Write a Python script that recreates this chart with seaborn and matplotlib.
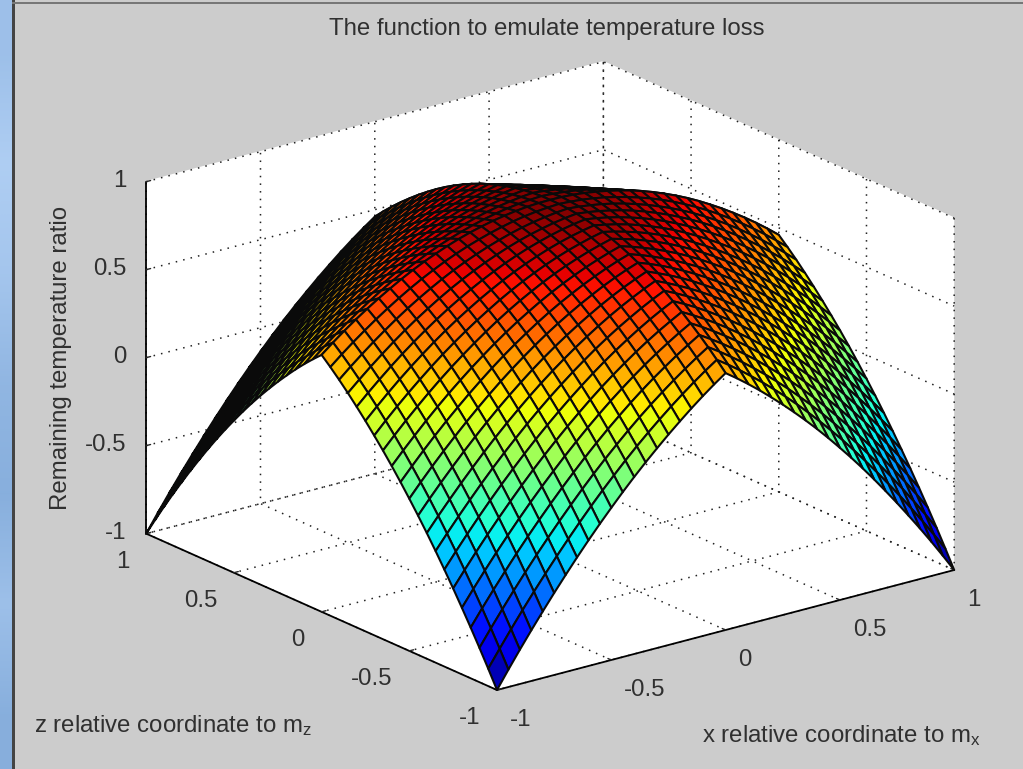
import numpy as np
import matplotlib
matplotlib.use("Agg")
import matplotlib.pyplot as plt
from matplotlib.patches import Rectangle
from mpl_toolkits.mplot3d import proj3d
import seaborn as sns

TITLE = "The function to emulate temperature loss"
XLABEL = r"x relative coordinate to m$_{\mathrm{x}}$"
ZLABEL = r"z relative coordinate to m$_{\mathrm{z}}$"
YLABEL = "Remaining temperature ratio"
TICKS = [-1, -0.5, 0, 0.5, 1]
TICK_LABELS = ["-1", "-0.5", "0", "0.5", "1"]

# Mesh coordinates from centre to edge (the surface is mirrored about both axes)
coord_half = [0.00, 0.05, 0.10, 0.15, 0.20, 0.25, 0.30, 0.35, 0.40, 0.45, 0.50,
              0.55, 0.60, 0.65, 0.70, 0.75, 0.80, 0.85, 0.90, 0.95, 1.00]

# Height read per quadrant mesh node (upper triangle, the quadrant is symmetric)
ratio_rows = [
    [1.000, .999, .995, .988, .978, .966, .951, .934, .914, .891, .865, .837, .806, .772, .735, .696, .654, .610, .563, .513, .460],
    [.995, .989, .980, .968, .953, .936, .916, .894, .869, .841, .810, .777, .741, .702, .660, .616, .569, .520, .468, .413],
    [.980, .969, .955, .938, .918, .896, .871, .844, .814, .781, .745, .707, .666, .622, .575, .526, .474, .420, .363],
    [.955, .939, .920, .898, .873, .846, .816, .784, .749, .711, .670, .627, .581, .532, .480, .426, .369, .310],
    [.920, .899, .875, .848, .818, .786, .751, .714, .674, .631, .585, .537, .486, .432, .375, .316, .254],
    [.875, .849, .820, .788, .753, .716, .676, .634, .589, .541, .490, .437, .381, .322, .260, .196],
    [.820, .789, .755, .718, .678, .636, .591, .544, .494, .441, .385, .327, .266, .202, .135],
    [.755, .719, .680, .638, .593, .546, .496, .444, .389, .331, .270, .207, .141, .072],
    [.680, .639, .595, .548, .498, .446, .391, .334, .274, .211, .145, .077, .006],
    [.595, .549, .500, .448, .393, .336, .276, .214, .149, .081, .010, -.063],
    [.500, .449, .395, .338, .278, .216, .151, .084, .014, -.059, -.135],
    [.395, .339, .280, .218, .153, .086, .016, -.056, -.131, -.209],
    [.280, .219, .155, .088, .018, -.054, -.129, -.206, -.286],
    [.155, .089, .020, -.052, -.127, -.204, -.284, -.366],
    [.020, -.051, -.125, -.202, -.282, -.364, -.449],
    [-.125, -.201, -.280, -.362, -.447, -.534],
    [-.280, -.361, -.445, -.532, -.622],
    [-.445, -.531, -.620, -.712],
    [-.620, -.711, -.805],
    [-.805, -.901],
    [-1.000],
]

n = len(coord_half)
quad = np.zeros((n, n))
for i, row in enumerate(ratio_rows):
    quad[i, i:] = row
    quad[i:, i] = row
full = np.vstack([quad[:0:-1], quad])
full = np.hstack([full[:, :0:-1], full])
half = np.array(coord_half)
axis_coord = np.concatenate([-half[:0:-1], half])
X, Y = np.meshgrid(axis_coord, axis_coord)

sns.set_theme(style="white")
plt.rcParams["font.family"] = ["Liberation Sans", "DejaVu Sans"]
plt.rcParams["mathtext.fontset"] = "custom"
plt.rcParams["mathtext.rm"] = "Liberation Sans"
plt.rcParams["mathtext.default"] = "rm"

W, H = 1023, 769
BG = "#cccccc"
TXT = "#303030"
FS = 17.3
fig = plt.figure(figsize=(W / 100, H / 100), dpi=100, facecolor=BG)

# Window decoration: blue strip at the left, dark frame lines
strip = fig.add_axes([0, 0, 12 / W, 1])
strip.imshow(np.array([[0.62], [0.72], [0.66], [0.55], [0.50], [0.62], [0.50]]),
             aspect="auto", cmap=sns.blend_palette(["#7fa8d8", "#b4d2f6"], as_cmap=True),
             vmin=0.45, vmax=0.75, interpolation="bilinear")
strip.axis("off")
fig.add_artist(Rectangle((12 / W, 0), 2.5 / W, 1, transform=fig.transFigure, color="#444444", lw=0))
fig.add_artist(Rectangle((12 / W, 1 - 4 / H), 1, 2 / H, transform=fig.transFigure, color="#777777", lw=0))

ax = fig.add_axes([0.1, 0.1, 0.8, 0.8], projection="3d", computed_zorder=True)
ax.set_proj_type("ortho")
ax.view_init(elev=20, azim=-127.5)
ax.set_box_aspect((577, 577, 375))
ax.patch.set_alpha(0)
ax.set_xlim(-1, 1, view_margin=0)
ax.set_ylim(-1, 1, view_margin=0)
ax.set_zlim(-1, 1, view_margin=0)

jet = matplotlib.colormaps["jet"]
ax.plot_surface(X, Y, full, cmap=jet, vmin=-1, vmax=1, rstride=1, cstride=1,
                edgecolor="#0a0a0a", linewidth=1.5, antialiased=True, shade=False)

for axis in (ax.xaxis, ax.yaxis, ax.zaxis):
    axis.set_pane_color((1, 1, 1, 1))
    axis.pane.set_edgecolor((1, 1, 1, 0))
    axis.line.set_color("black")
    axis.line.set_linewidth(1.3)
    axis._axinfo["grid"].update(color="#222222", linestyle=(0, (1, 4)), linewidth=1.1)
    axis._axinfo["tick"].update(inward_factor=0.0, outward_factor=0.12, linewidth={True: 1.0, False: 0.5})
    axis.set_ticks(TICKS)
    axis.set_ticklabels(TICK_LABELS, fontsize=FS, color=TXT)
ax.tick_params(axis="x", pad=4)
ax.tick_params(axis="y", pad=4)
ax.tick_params(axis="z", pad=0)
for t in ax.xaxis.get_ticklabels():
    t.set_ha("left")
for t in ax.yaxis.get_ticklabels():
    t.set_ha("right")
for t in ax.zaxis.get_ticklabels():
    t.set_ha("right")
    t.set_va("center")
ax.grid(True)


def project(x, y, z):
    px, py, _ = proj3d.proj_transform(x, y, z, ax.get_proj())
    return ax.transData.transform((px, py))


# Scale and place the square axes so the box corners land where the picture has them
side = 600.0
ax.set_position([200 / W, 80 / H, side / W, side / H])
fig.canvas.draw()
a, b = project(-1, 1, -1), project(1, -1, -1)
side *= (955 - 147) / (b[0] - a[0])
ax.set_position([200 / W, 80 / H, side / W, side / H])
fig.canvas.draw()
f0 = project(-1, -1, -1)
l = 200 + (497 - f0[0])
bt = 80 + ((H - 690) - f0[1])
ax.set_position([l / W, bt / H, side / W, side / H])


def px_text(x, y, s, **kw):
    fig.text(x / W, 1 - y / H, s, color=TXT, fontsize=FS, ha=kw.pop("ha", "center"), va="center", **kw)


px_text(547, 29, TITLE)
px_text(34, 726, ZLABEL, ha="left")
px_text(702, 736, XLABEL, ha="left")
px_text(61, 358, YLABEL, rotation=90)

fig.savefig("out.png", dpi=100, facecolor=BG)
